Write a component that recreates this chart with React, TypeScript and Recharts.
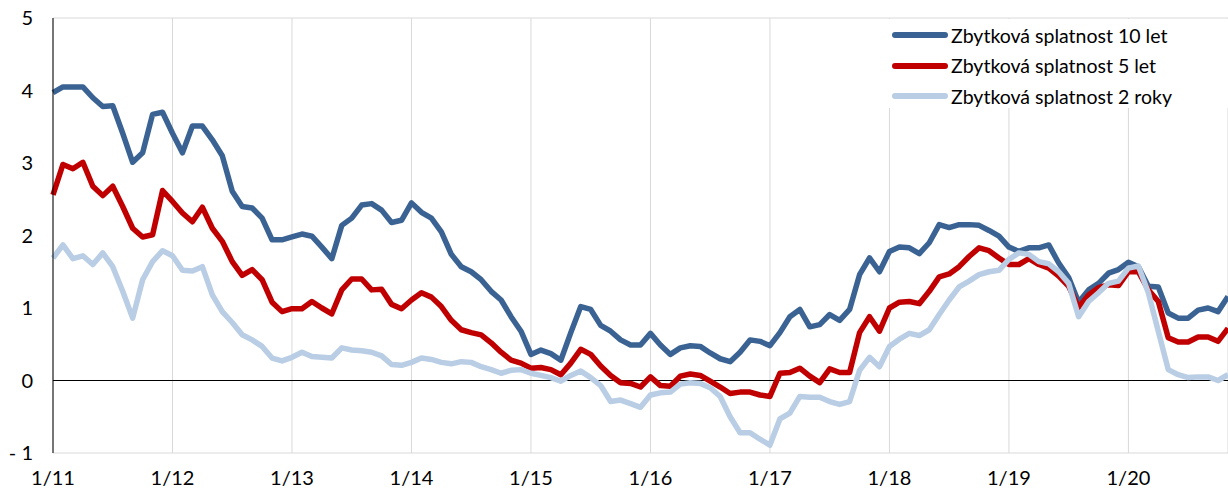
import { CartesianGrid, Legend, Line, LineChart, ReferenceLine, XAxis, YAxis } from 'recharts';

// monthly yields, 1/2011 .. 11/2020
const yield10 = [
  3.97, 4.05, 4.05, 4.05, 3.9, 3.78, 3.79, 3.41, 3.01, 3.14, 3.67, 3.7,
  3.41, 3.14, 3.51, 3.51, 3.32, 3.1, 2.61, 2.4, 2.38, 2.24, 1.94, 1.94,
  1.98, 2.02, 1.99, 1.84, 1.68, 2.14, 2.24, 2.42, 2.44, 2.35, 2.18, 2.21,
  2.45, 2.32, 2.24, 2.05, 1.74, 1.57, 1.5, 1.39, 1.23, 1.11, 0.88, 0.68,
  0.36, 0.42, 0.37, 0.28, 0.66, 1.02, 0.98, 0.76, 0.68, 0.56, 0.49, 0.49,
  0.65, 0.49, 0.36, 0.45, 0.48, 0.47, 0.38, 0.3, 0.26, 0.39, 0.56, 0.54,
  0.48, 0.66, 0.88, 0.98, 0.74, 0.77, 0.91, 0.83, 0.98, 1.46, 1.69, 1.5,
  1.78, 1.84, 1.83, 1.75, 1.9, 2.15, 2.11, 2.15, 2.15, 2.14, 2.07, 1.99,
  1.84, 1.78, 1.83, 1.83, 1.87, 1.62, 1.42, 1.08, 1.25, 1.34, 1.48, 1.53,
  1.63, 1.57, 1.3, 1.29, 0.93, 0.86, 0.86, 0.97, 1.0, 0.95, 1.16,
];

const yield5 = [
  2.56, 2.98, 2.92, 3.01, 2.68, 2.55, 2.68, 2.4, 2.1, 1.98, 2.01, 2.62,
  2.47, 2.31, 2.19, 2.39, 2.1, 1.92, 1.64, 1.45, 1.53, 1.39, 1.08, 0.95,
  0.99, 0.99, 1.09, 1.0, 0.92, 1.25, 1.4, 1.4, 1.25, 1.26, 1.05, 0.99,
  1.11, 1.21, 1.15, 1.02, 0.83, 0.7, 0.66, 0.63, 0.52, 0.39, 0.28, 0.24,
  0.17, 0.18, 0.15, 0.08, 0.24, 0.43, 0.36, 0.2, 0.07, -0.03, -0.04, -0.09,
  0.05, -0.07, -0.08, 0.06, 0.09, 0.07, -0.01, -0.09, -0.18, -0.16, -0.16, -0.2,
  -0.22, 0.1, 0.11, 0.17, 0.06, -0.03, 0.16, 0.11, 0.11, 0.66, 0.88, 0.68,
  1.0, 1.08, 1.09, 1.06, 1.23, 1.43, 1.47, 1.57, 1.71, 1.83, 1.79, 1.69,
  1.6, 1.6, 1.68, 1.6, 1.55, 1.44, 1.3, 1.01, 1.18, 1.28, 1.32, 1.31,
  1.5, 1.5, 1.25, 1.09, 0.59, 0.53, 0.53, 0.6, 0.6, 0.54, 0.72,
];

const yield2 = [
  1.69, 1.87, 1.68, 1.72, 1.6, 1.76, 1.57, 1.23, 0.86, 1.39, 1.64, 1.79,
  1.72, 1.52, 1.51, 1.57, 1.18, 0.95, 0.8, 0.63, 0.56, 0.47, 0.31, 0.27,
  0.32, 0.39, 0.33, 0.32, 0.31, 0.45, 0.42, 0.41, 0.39, 0.34, 0.22, 0.21,
  0.25, 0.31, 0.29, 0.25, 0.23, 0.26, 0.25, 0.19, 0.15, 0.1, 0.14, 0.15,
  0.1, 0.07, 0.04, -0.01, 0.07, 0.13, 0.04, -0.07, -0.29, -0.27, -0.32, -0.37,
  -0.2, -0.17, -0.16, -0.05, -0.03, -0.04, -0.1, -0.22, -0.5, -0.72, -0.72, -0.81,
  -0.89, -0.53, -0.45, -0.22, -0.23, -0.23, -0.29, -0.33, -0.29, 0.14, 0.32, 0.19,
  0.47, 0.57, 0.65, 0.62, 0.7, 0.91, 1.11, 1.29, 1.37, 1.46, 1.5, 1.52,
  1.67, 1.76, 1.74, 1.64, 1.61, 1.5, 1.34, 0.88, 1.09, 1.21, 1.34, 1.37,
  1.55, 1.58, 1.21, 0.68, 0.15, 0.08, 0.04, 0.05, 0.05, 0.0, 0.08,
];

const yearTicks = [0, 12, 24, 36, 48, 60, 72, 84, 96, 108];
const yearLabels = ['1/11', '1/12', '1/13', '1/14', '1/15', '1/16', '1/17', '1/18', '1/19', '1/20'];
const yTicks = [-1, 0, 1, 2, 3, 4, 5];

const series = [
  { key: 'y10', name: 'Zbytková splatnost 10 let', color: '#3A6393' },
  { key: 'y5', name: 'Zbytková splatnost 5 let', color: '#C00000' },
  { key: 'y2', name: 'Zbytková splatnost 2 roky', color: '#B9CDE5' },
];

const data = yield10.map((v, i) => ({ m: i, y10: v, y5: yield5[i], y2: yield2[i] }));

const FONT = 'Lato, sans-serif';

function LegendBox() {
  return (
    <div style={{ background: '#fff', width: '100%', height: '100%', paddingTop: 1, boxSizing: 'border-box' }}>
      {series.map((s) => (
        <div key={s.key} style={{ display: 'flex', alignItems: 'center', height: 30.5 }}>
          <span
            style={{ display: 'inline-block', width: 56, height: 6, borderRadius: 3, background: s.color, marginLeft: 7 }}
          />
          <span style={{ marginLeft: 3, fontFamily: FONT, fontSize: 19.5, color: '#000', whiteSpace: 'nowrap' }}>
            {s.name}
          </span>
        </div>
      ))}
    </div>
  );
}

export default function App() {
  return (
    <div style={{ position: 'absolute', left: 0, top: 0, width: 1228, height: 488, background: '#fff' }}>
      <LineChart width={1228} height={488} data={data} margin={{ top: 18, right: 0, bottom: 0, left: 0 }}>
        <CartesianGrid horizontal={false} stroke="#D9D9D9" />
        <XAxis
          dataKey="m"
          type="number"
          domain={[0, 118]}
          ticks={yearTicks}
          tickFormatter={(v: number) => yearLabels[yearTicks.indexOf(v)]}
          height={35}
          axisLine={{ stroke: '#D9D9D9' }}
          tickLine={false}
          tickSize={0}
          tickMargin={18}
          tick={{ fill: '#000', fontSize: 20, fontFamily: FONT }}
        />
        <YAxis
          domain={[-1, 5]}
          ticks={yTicks}
          width={53}
          axisLine={{ stroke: '#000' }}
          tickLine={false}
          tickSize={0}
          tickMargin={20}
          tickFormatter={(v: number) => (v < 0 ? `- ${-v}` : `${v}`)}
          tick={{ fill: '#000', fontSize: 20, fontFamily: FONT }}
        />
        <ReferenceLine y={5} stroke="#D9D9D9" />
        <ReferenceLine y={0} stroke="#000" />
        {series.map((s) => (
          <Line
            key={s.key}
            dataKey={s.key}
            name={s.name}
            stroke={s.color}
            strokeWidth={5.5}
            strokeLinejoin="round"
            dot={false}
            activeDot={false}
            isAnimationActive={false}
          />
        ))}
        <Legend
          layout="vertical"
          align="center"
          verticalAlign="middle"
          content={() => <LegendBox />}
          wrapperStyle={{ left: 885, top: 19, width: 343, height: 89 }}
        />
      </LineChart>
    </div>
  );
}
